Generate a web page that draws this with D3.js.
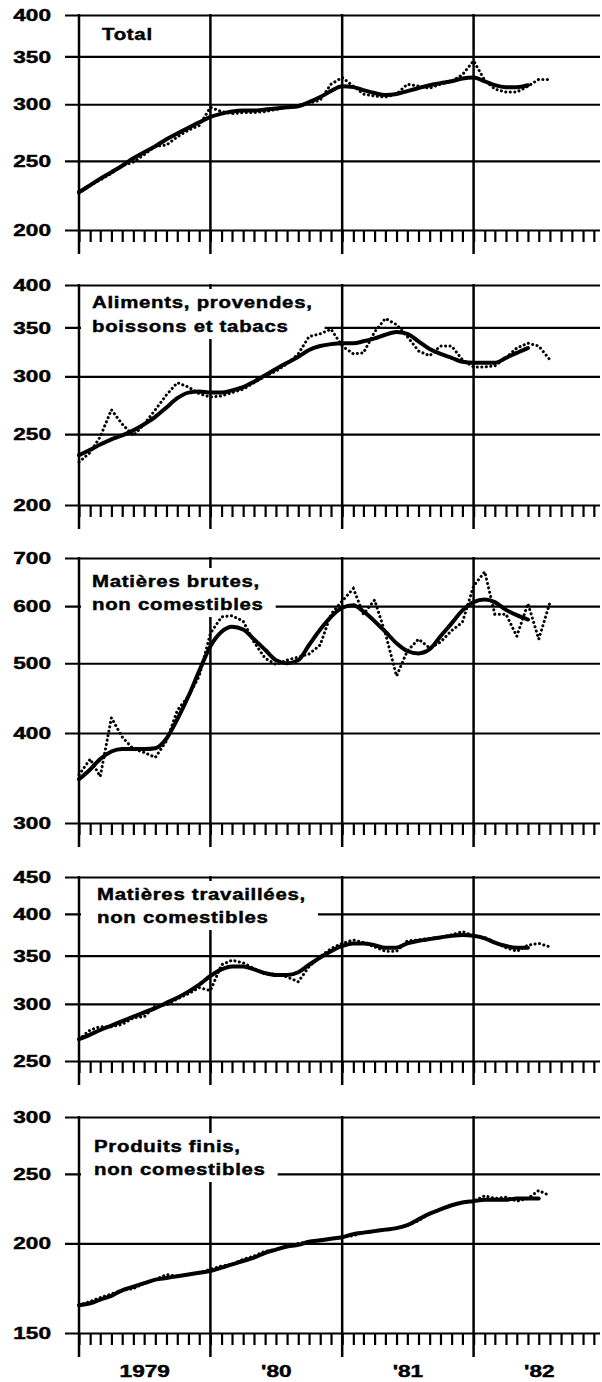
<!DOCTYPE html>
<html>
<head>
<meta charset="utf-8">
<script src="https://cdn.jsdelivr.net/npm/d3@7"></script>
<style>
  body { margin: 0; background: #fff; }
  svg text { font-family: "Liberation Sans", Arial, Helvetica, sans-serif; font-weight: bold; fill: #000; stroke: #000; stroke-width: 0.45px; }
</style>
</head>
<body>
<svg id="chart" width="602" height="1382"></svg>
<script>
// ---- data (index values, log scale, monthly Jan 1979 .. Aug 1982) ----
const yearLabels = ["1979", "'80", "'81", "'82"];
const firstMonth = new Date(1979, 0, 1);
const lastYear = new Date(1983, 0, 1);
const months = d3.timeMonth.range(firstMonth, new Date(1982, 8, 1));

const totalTitle = ["Total"];
const totalTicks = [200, 250, 300, 350, 400];
const totalMonthly = [225, 231, 235, 240, 246, 249, 255, 262, 263, 270, 276, 280, 297, 293, 291, 292, 292, 293, 295, 297, 299, 301, 304, 320, 327, 318, 310, 308, 307, 310, 320, 318, 316, 320, 323, 330, 345, 324, 315, 312, 312, 318, 325, 325];
const totalTrend = [226, 231, 236, 241, 246, 252, 257, 262, 268, 273, 278, 283, 288, 291, 293, 294, 294, 295, 296, 297, 298, 302, 307, 313, 318, 317, 314, 311, 309, 310, 313, 316, 319, 321, 323, 326, 327, 323, 319, 317, 317, 319];

const foodTitle = ["Aliments, provendes,", "boissons et tabacs"];
const foodTicks = [200, 250, 300, 350, 400];
const foodMonthly = [229, 236, 248, 270, 258, 249, 258, 270, 283, 294, 290, 284, 281, 282, 285, 288, 294, 300, 305, 312, 322, 340, 343, 348, 330, 322, 323, 345, 360, 353, 340, 325, 320, 330, 330, 316, 309, 309, 310, 318, 328, 333, 330, 316];
const foodTrend = [234, 238, 242, 246, 249, 253, 258, 264, 272, 280, 285, 286, 285, 285, 287, 290, 295, 301, 307, 313, 319, 326, 330, 332, 333, 333, 335, 338, 342, 345, 343, 335, 327, 322, 318, 314, 313, 313, 313, 318, 323, 328];

const crudeTitle = ["Matières brutes,", "non comestibles"];
const crudeTicks = [300, 400, 500, 600, 700];
const crudeMonthly = [350, 368, 348, 420, 395, 380, 376, 370, 390, 430, 450, 480, 550, 580, 582, 572, 535, 508, 498, 505, 510, 515, 530, 585, 610, 635, 585, 612, 550, 480, 520, 540, 525, 535, 555, 570, 640, 670, 585, 585, 545, 605, 540, 607];
const crudeTrend = [345, 356, 368, 377, 380, 380, 380, 381, 393, 418, 450, 488, 528, 553, 562, 557, 540, 522, 505, 500, 505, 530, 557, 580, 597, 602, 590, 572, 553, 533, 520, 516, 523, 545, 568, 592, 608, 613, 608, 593, 583, 575];

const fabTitle = ["Matières travaillées,", "non comestibles"];
const fabTicks = [250, 300, 350, 400, 450];
const fabMonthly = [268, 276, 279, 279, 281, 287, 288, 298, 299, 305, 310, 316, 313, 340, 345, 342, 336, 330, 330, 327, 322, 338, 349, 358, 364, 368, 365, 360, 355, 355, 367, 368, 370, 371, 374, 378, 373, 371, 365, 359, 355, 362, 364, 360];
const fabTrend = [268, 272, 276, 280, 284, 288, 292, 296, 301, 306, 312, 319, 328, 335, 338, 338, 335, 331, 329, 329, 332, 340, 348, 355, 361, 364, 364, 362, 359, 359, 364, 367, 369, 371, 373, 374, 373, 370, 365, 361, 359, 359];

const endTitle = ["Produits finis,", "non comestibles"];
const endTicks = [150, 200, 250, 300];
const endMonthly = [164, 166, 168, 170, 172, 173, 176, 178, 181, 180, 181, 182, 184, 186, 187, 190, 192, 195, 196, 198, 200, 201, 202, 203, 204, 205, 207, 208, 209, 210, 212, 215, 220, 223, 226, 228, 229, 233, 231, 232, 229, 231, 237, 233];
const endTrend = [164, 165, 167, 169, 172, 174, 176, 178, 179, 180, 181, 182, 183, 185, 187, 189, 191, 194, 196, 198, 199, 201, 202, 203, 204, 206, 207, 208, 209, 210, 212, 216, 220, 223, 226, 228, 229, 230, 230, 230, 231, 231, 231];

const panels = [
  { title: totalTitle, ticks: totalTicks, monthly: totalMonthly, trend: totalTrend },
  { title: foodTitle, ticks: foodTicks, monthly: foodMonthly, trend: foodTrend },
  { title: crudeTitle, ticks: crudeTicks, monthly: crudeMonthly, trend: crudeTrend },
  { title: fabTitle, ticks: fabTicks, monthly: fabMonthly, trend: fabTrend },
  { title: endTitle, ticks: endTicks, monthly: endMonthly, trend: endTrend },
];

// ---- layout ----
// bottom / top pixel of each log axis, title anchor
const layout = [
  { bottom: 230, top: 15, tx: 102, ty: [40] },
  { bottom: 505, top: 285, tx: 92, ty: [308, 332] },
  { bottom: 823, top: 558, tx: 92, ty: [587, 610] },
  { bottom: 1061, top: 877, tx: 97, ty: [900, 923] },
  { bottom: 1333, top: 1117, tx: 94, ty: [1152, 1175] },
];

const GRID_LEFT = 65;
const GRID_RIGHT = 600;
const TITLE_SCALE = 1.2;
const LABEL_SCALE = 1.33;
const FONT_SIZE = 17;

const svg = d3.select('#chart');

const x = d3.scaleTime().domain([firstMonth, lastYear]).range([79, 605]);
const yearStarts = d3.timeYear.range(firstMonth, lastYear);
const monthTicks = d3.timeMonth.range(firstMonth, new Date(1982, 11, 2));

panels.forEach((p, i) => {
  const L = layout[i];
  const y = d3.scaleLog().domain(d3.extent(p.ticks)).range([L.bottom, L.top]);
  const g = svg.append('g');

  // horizontal grid
  g.append('g')
    .attr('transform', `translate(${GRID_LEFT},0)`)
    .call(d3.axisRight(y).tickValues(p.ticks).tickSize(GRID_RIGHT - GRID_LEFT).tickFormat(''))
    .call((a) => a.select('.domain').remove())
    .call((a) => a.selectAll('line').attr('stroke', '#000').attr('stroke-width', 2.2));

  // month ticks under the panel
  g.append('g')
    .attr('transform', `translate(0,${L.bottom})`)
    .call(d3.axisBottom(x).tickValues(monthTicks).tickSize(12).tickFormat(''))
    .call((a) => a.select('.domain').remove())
    .call((a) => a.selectAll('line').attr('stroke', '#000').attr('stroke-width', 2.2));

  // year lines
  g.append('g')
    .selectAll('line')
    .data(yearStarts)
    .join('line')
    .attr('x1', (d) => x(d))
    .attr('x2', (d) => x(d))
    .attr('y1', L.top - 1)
    .attr('y2', L.bottom + 24)
    .attr('stroke', '#000')
    .attr('stroke-width', 2.5);

  // tick labels
  g.append('g')
    .selectAll('text')
    .data(p.ticks)
    .join('text')
    .attr('text-anchor', 'end')
    .attr('dy', '0.36em')
    .attr('font-size', FONT_SIZE)
    .attr('transform', (d) => `translate(51,${y(d)}) scale(${LABEL_SCALE},1)`)
    .text((d) => d);

  // title with white backing
  const tg = g.append('g');
  tg.selectAll('text')
    .data(p.title)
    .join('text')
    .attr('font-size', FONT_SIZE)
    .attr('letter-spacing', 0.6)
    .attr('transform', (d, k) => `translate(${L.tx},${L.ty[k]}) scale(${TITLE_SCALE},1)`)
    .text((d) => d);
  const w = d3.max(tg.selectAll('text').nodes(), (n) => n.getBBox().width * TITLE_SCALE);
  if (p.title.length > 1) {
    tg.insert('rect', 'text')
      .attr('x', 81)
      .attr('y', L.ty[0] - 19)
      .attr('width', L.tx + w + 12 - 81)
      .attr('height', L.ty[L.ty.length - 1] + 7 - (L.ty[0] - 19))
      .attr('fill', '#fff');
  }

  // monthly series (dotted)
  const line = d3.line()
    .x((d, k) => x(months[k]))
    .y((d) => y(d));

  g.append('path')
    .datum(p.monthly)
    .attr('d', line)
    .attr('fill', 'none')
    .attr('stroke', '#000')
    .attr('stroke-width', 3)
    .attr('stroke-linecap', 'round')
    .attr('stroke-dasharray', '0.1 4.4');

  // trend-cycle (solid)
  g.append('path')
    .datum(p.trend)
    .attr('d', line.curve(d3.curveMonotoneX))
    .attr('fill', 'none')
    .attr('stroke', '#000')
    .attr('stroke-width', 4)
    .attr('stroke-linejoin', 'round')
    .attr('stroke-linecap', 'round');
});

// year labels
svg.append('g')
  .selectAll('text')
  .data(yearLabels)
  .join('text')
  .attr('text-anchor', 'middle')
  .attr('font-size', FONT_SIZE)
  .attr('transform', (d, k) => {
    const mid = (x(yearStarts[k]) + x(d3.timeYear.offset(yearStarts[k], 1))) / 2;
    return `translate(${mid},1377) scale(${LABEL_SCALE},1)`;
  })
  .text((d) => d);
</script>
</body>
</html>
